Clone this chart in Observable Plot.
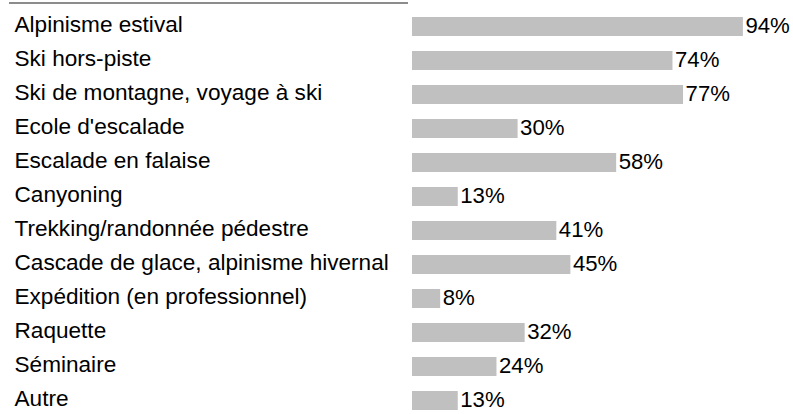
<!DOCTYPE html>
<html>
<head>
<meta charset="utf-8">
<script src="https://cdn.jsdelivr.net/npm/d3@7"></script>
<script src="https://cdn.jsdelivr.net/npm/@observablehq/plot@0.6"></script>
<style>
  body { margin: 0; background: #fff; }
  #wrap { position: relative; width: 793px; height: 414px; }
  #topline { position: absolute; left: 9px; top: 2px; width: 399px; height: 2px; background: #8c8c8c; }
</style>
</head>
<body>
<div id="wrap"><div id="topline"></div><div id="chart"></div></div>
<script>
const categories = [
  "Alpinisme estival",
  "Ski hors-piste",
  "Ski de montagne, voyage à ski",
  "Ecole d'escalade",
  "Escalade en falaise",
  "Canyoning",
  "Trekking/randonnée pédestre",
  "Cascade de glace, alpinisme hivernal",
  "Expédition (en professionnel)",
  "Raquette",
  "Séminaire",
  "Autre"
];
const values = [94, 74, 77, 30, 58, 13, 41, 45, 8, 32, 24, 13];

const data = categories.map((c, i) => ({category: c, value: values[i]}));

const chart = Plot.plot({
  width: 793,
  height: 414,
  marginTop: 13,
  marginBottom: 0,
  marginLeft: 412,
  marginRight: 29,
  style: {fontFamily: "'Liberation Sans', Arial, sans-serif", fontSize: "22px", color: "#000", overflow: "visible"},
  x: {domain: [0, 100], axis: null},
  y: {domain: categories, axis: null, paddingInner: 0.43, paddingOuter: 0},
  marks: [
    Plot.barX(data, {x: "value", y: "category", fill: "#c0c0c0"}),
    Plot.text(data, {x: "value", y: "category", text: d => d.value + "%", textAnchor: "start", dx: 2, dy: -1, fill: "#000", fontSize: 22.2}),
    Plot.text(data, {y: "category", text: "category", frameAnchor: "left", textAnchor: "start", dx: -398, dy: -2, fill: "#000", fontSize: 22.6})
  ]
});
document.getElementById("chart").appendChild(chart);
</script>
</body>
</html>
